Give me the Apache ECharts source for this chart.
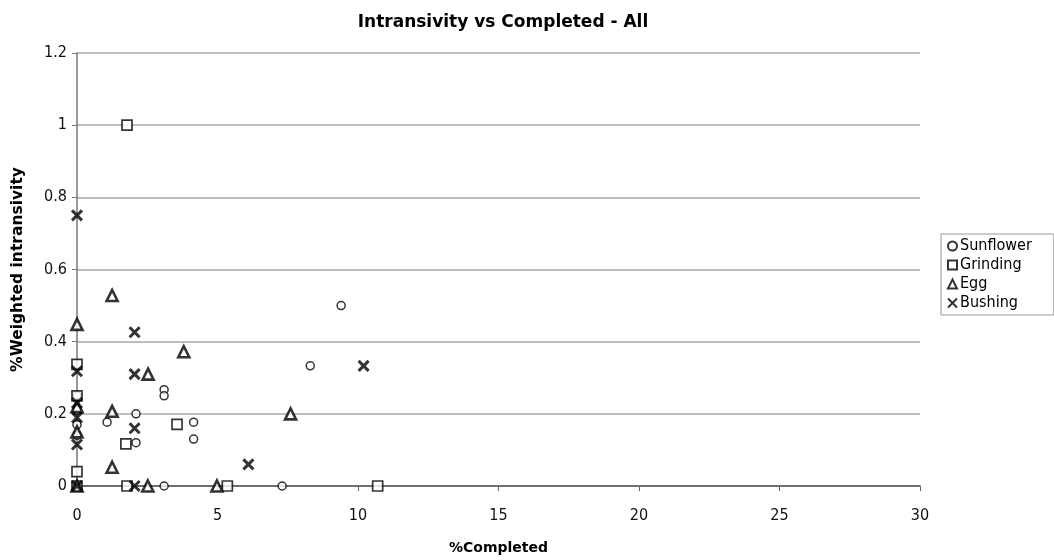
<!DOCTYPE html>
<html>
<head>
<meta charset="utf-8">
<script src="https://cdn.jsdelivr.net/npm/echarts@6/dist/echarts.min.js"></script>
<style>
html,body{margin:0;padding:0;background:#fff;}
#chart{width:1054px;height:560px;}
</style>
</head>
<body>
<div id="chart"></div>
<script>
const seriesNames = ['Sunflower', 'Grinding', 'Egg', 'Bushing'];
const sunflower = [[9.4,0.5],[8.3,0.333],[3.1,0.267],[3.1,0.25],[2.1,0.2],[1.07,0.177],[4.15,0.177],[4.15,0.13],[2.1,0.12],[3.1,0],[7.3,0],[0,0.25],[0,0.21],[0,0.17],[0,0.14],[0,0]];
const grinding = [[1.78,1.0],[3.56,0.171],[1.74,0.117],[1.78,0],[5.35,0],[10.7,0],[0,0.337],[0,0.25],[0,0.04],[0,0]];
const egg = [[1.25,0.528],[0,0.448],[3.8,0.372],[2.53,0.31],[1.25,0.207],[7.6,0.2],[1.25,0.052],[2.52,0],[4.98,0],[0,0.22],[0,0.15],[0,0]];
const bushing = [[0,0.75],[2.05,0.426],[2.05,0.31],[10.2,0.333],[2.05,0.16],[6.1,0.06],[2.05,0],[0,0.318],[0,0.23],[0,0.19],[0,0.115],[0,0]];
const xTicks = {min:0, max:30, interval:5};
const yTicks = {min:0, max:1.2, interval:0.2};

const xPath = 'path://M0,0L10,10M10,0L0,10';
const boldFont = 'DejaVu Sans';
const tickFont = 'DejaVu Sans Condensed, DejaVu Sans';
const chart = echarts.init(document.getElementById('chart'));
chart.setOption({
  animation:false,
  backgroundColor:'#fff',
  title:{text:'Intransivity vs Completed - All', left:498, textAlign:'center', top:9,
    textStyle:{fontFamily:boldFont, fontWeight:'bold', fontSize:17, color:'#000'}},
  grid:{left:77, right:134, top:53, bottom:73, show:false},
  legend:{orient:'vertical', left:941, top:234, data:seriesNames,
    borderColor:'#999', borderWidth:1, padding:[4,22,4,6], itemGap:3, itemWidth:9, itemHeight:9,
    textStyle:{fontFamily:tickFont, fontSize:16, color:'#000', padding:[0,0,0,-2]}},
  xAxis:{type:'value', min:xTicks.min, max:xTicks.max, interval:xTicks.interval,
    name:'%Completed', nameLocation:'middle', nameGap:55,
    nameTextStyle:{fontFamily:boldFont, fontWeight:'bold', fontSize:14, color:'#000'},
    axisLine:{show:true, onZero:false, lineStyle:{color:'#555', width:1.5}},
    axisTick:{show:true, length:5, lineStyle:{color:'#666'}},
    axisLabel:{fontFamily:tickFont, fontSize:16, color:'#111', margin:22},
    splitLine:{show:false}},
  yAxis:{type:'value', min:yTicks.min, max:yTicks.max, interval:yTicks.interval,
    name:'%Weighted intransivity', nameLocation:'middle', nameGap:51, nameRotate:90,
    nameTextStyle:{fontFamily:boldFont, fontWeight:'bold', fontSize:15.5, color:'#000'},
    axisLine:{show:true, lineStyle:{color:'#777', width:1.5}},
    axisTick:{show:true, length:5, lineStyle:{color:'#777'}},
    axisLabel:{fontFamily:tickFont, fontSize:16, color:'#111', margin:10,
      formatter:v=>String(Math.round(v*10)/10)},
    splitLine:{show:true, lineStyle:{color:'#a8a8a8', width:1.5}}},
  series:[
    {name:'Sunflower', type:'scatter', data:sunflower, symbol:'circle', symbolSize:8,
      itemStyle:{color:'#fff', borderColor:'#000', borderWidth:1.5}},
    {name:'Grinding', type:'scatter', data:grinding, symbol:'rect', symbolSize:10,
      itemStyle:{color:'#fff', borderColor:'#000', borderWidth:1.7}},
    {name:'Egg', type:'scatter', data:egg, symbol:'triangle', symbolSize:[11,11],
      itemStyle:{color:'#fff', borderColor:'#000', borderWidth:2.6}},
    {name:'Bushing', type:'scatter', data:bushing, symbol:xPath, symbolSize:10,
      itemStyle:{color:'#000', borderColor:'#000', borderWidth:3}}
  ]
});
</script>
</body>
</html>
